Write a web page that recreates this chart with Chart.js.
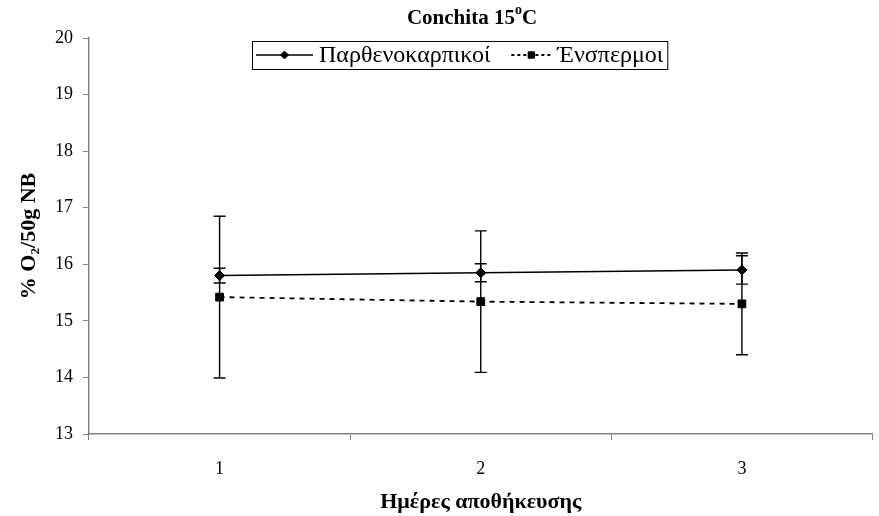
<!DOCTYPE html>
<html>
<head>
<meta charset="utf-8">
<script src="https://cdn.jsdelivr.net/npm/chart.js@4.4.1/dist/chart.umd.min.js"></script>
<style>
  body { margin: 0; background: #fff; }
  #wrap { width: 879px; height: 516px; position: relative; }
</style>
</head>
<body>
<div id="wrap"><canvas id="myChart"></canvas></div>
<script>
// storage days and O2 readings (mean and error)
var days = ["1", "2", "3"];
var parthValues = [15.80, 15.85, 15.90];
var parthErrors = [0.13, 0.16, 0.25];
var enspValues = [15.42, 15.34, 15.30];
var enspErrors = [1.43, 1.25, 0.90];
var yMin = 13, yMax = 20, yStep = 1;

var serif = "'Liberation Serif', 'Times New Roman', serif";
var axisColor = "#808080";

// vertical error bars with caps
const errorBars = {
  id: "errorBars",
  afterDatasetsDraw(chart) {
    const ctx = chart.ctx;
    const y = chart.scales.y;
    chart.data.datasets.forEach((ds, i) => {
      const meta = chart.getDatasetMeta(i);
      ctx.save();
      ctx.strokeStyle = "#000";
      ctx.lineWidth = 1.4;
      meta.data.forEach((pt, j) => {
        const v = ds.data[j], e = ds.errors[j];
        const top = y.getPixelForValue(v + e);
        const bot = y.getPixelForValue(v - e);
        ctx.beginPath();
        ctx.moveTo(pt.x, top); ctx.lineTo(pt.x, bot);
        ctx.moveTo(pt.x - 6, top); ctx.lineTo(pt.x + 6, top);
        ctx.moveTo(pt.x - 6, bot); ctx.lineTo(pt.x + 6, bot);
        ctx.stroke();
      });
      ctx.restore();
    });
  }
};

// title with superscript "o" and boxed legend
const titleAndLegend = {
  id: "titleAndLegend",
  afterDraw(chart) {
    const ctx = chart.ctx;
    ctx.save();
    ctx.fillStyle = "#000";
    ctx.textBaseline = "middle";

    // title
    const bigFont = "bold 21px " + serif, supFont = "bold 14px " + serif;
    ctx.font = bigFont;
    const w1 = ctx.measureText("Conchita 15").width;
    const w3 = ctx.measureText("C").width;
    ctx.font = supFont;
    const w2 = ctx.measureText("o").width;
    let x = 472 - (w1 + w2 + w3) / 2;
    ctx.textAlign = "left";
    ctx.font = bigFont;
    ctx.fillText("Conchita 15", x, 19);
    ctx.font = supFont;
    ctx.fillText("o", x + w1, 10);
    ctx.font = bigFont;
    ctx.fillText("C", x + w1 + w2, 19);

    // legend
    const boxL = 252, boxT = 41, boxH = 28, midY = boxT + boxH / 2;
    const legFont = "24px " + serif;
    ctx.font = legFont;
    const ds = chart.data.datasets;
    let cx = boxL + 4;
    const items = [];
    ds.forEach((d, i) => {
      const lineLen = i === 0 ? 57 : 40;
      items.push({ d: d, x: cx, len: lineLen, tx: cx + lineLen + 6 });
      cx += lineLen + 6 + ctx.measureText(d.label).width + 21;
    });
    const boxR = cx - 17;
    ctx.lineWidth = 1;
    ctx.strokeStyle = "#000";
    ctx.strokeRect(boxL + 0.5, boxT + 0.5, boxR - boxL, boxH);

    items.forEach(it => {
      const d = it.d;
      ctx.save();
      ctx.strokeStyle = d.borderColor;
      ctx.lineWidth = d.borderWidth;
      ctx.setLineDash(d.borderDash ? [3, 3] : []);
      ctx.beginPath();
      ctx.moveTo(it.x, midY); ctx.lineTo(it.x + it.len, midY);
      ctx.stroke();
      ctx.restore();
      Chart.helpers.drawPoint(ctx, {
        pointStyle: d.pointStyle, radius: d.pointRadius - 1, borderWidth: 1
      }, it.x + it.len / 2, midY);
      ctx.fillStyle = "#000";
      ctx.font = legFont;
      ctx.fillText(d.label, it.tx, midY + 1);
    });
    ctx.restore();
  }
};

new Chart(document.getElementById("myChart"), {
  type: "line",
  data: {
    labels: days,
    datasets: [{
      label: "Παρθενοκαρπικοί",
      data: parthValues,
      errors: parthErrors,
      borderColor: "#000",
      backgroundColor: "#000",
      borderWidth: 1.5,
      pointStyle: "rectRot",
      pointRadius: 5,
      pointBorderWidth: 1,
    }, {
      label: "Ένσπερμοι",
      data: enspValues,
      errors: enspErrors,
      borderColor: "#000",
      backgroundColor: "#000",
      borderWidth: 1.8,
      borderDash: [5, 5],
      pointStyle: "rect",
      pointRadius: 5.5,
      pointBorderWidth: 1,
    }],
  },
  options: {
    responsive: true,
    maintainAspectRatio: false,
    animation: false,
    layout: { padding: { top: 38, right: 0, left: 0, bottom: 0 } },
    plugins: {
      legend: { display: false },
      title: { display: false },
      tooltip: { enabled: false },
    },
    scales: {
      x: {
        offset: true,
        afterFit(scale) { scale.height = 82; },
        grid: { offset: true, drawOnChartArea: false, color: axisColor, tickLength: 6 },
        border: { color: axisColor, width: 1.5 },
        ticks: { color: "#000", padding: 18, font: { family: serif, size: 18 } },
        title: {
          display: true,
          text: "Ημέρες αποθήκευσης",
          color: "#000",
          font: { family: serif, size: 22, weight: "bold" },
          padding: { top: 9, bottom: 0 },
        },
      },
      y: {
        min: yMin,
        max: yMax,
        afterFit(scale) { scale.width = 89; },
        grid: { drawOnChartArea: false, color: axisColor, tickLength: 6 },
        border: { color: axisColor, width: 1.5 },
        ticks: { stepSize: yStep, color: "#000", padding: 10, font: { family: serif, size: 18 } },
        title: {
          display: true,
          text: "% O₂/50g NB",
          color: "#000",
          font: { family: serif, size: 22, weight: "bold" },
          padding: { top: 16, bottom: 0 },
        },
      },
    },
  },
  plugins: [errorBars, titleAndLegend],
});
</script>
</body>
</html>
